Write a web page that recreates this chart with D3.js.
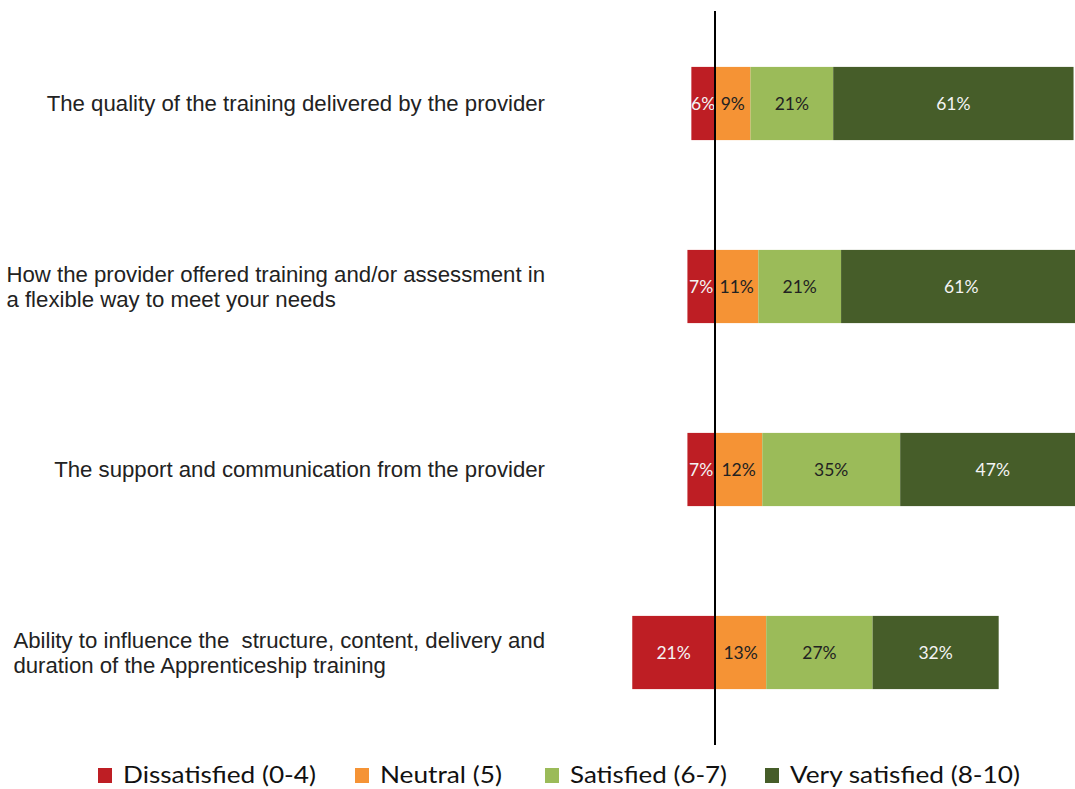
<!DOCTYPE html>
<html><head><meta charset="utf-8">
<script src="https://cdn.jsdelivr.net/npm/d3@7"></script>
<style>body{margin:0;background:#fff}svg{display:block}text{white-space:pre}</style>
</head><body>
<svg id="c" width="1075" height="789"></svg>
<script>
const categories = [
  ["The quality of the training delivered by the provider"],
  ["How the provider offered training and/or assessment in", "a flexible way to meet your needs"],
  ["The support and communication from the provider"],
  ["Ability to influence the  structure, content, delivery and", "duration of the Apprenticeship training"]
];
const seriesNames = ["Dissatisfied (0-4)", "Neutral (5)", "Satisfied (6-7)", "Very satisfied (8-10)"];
const dissatisfied = [6, 7, 7, 21];
const neutral = [9, 11, 12, 13];
const satisfied = [21, 21, 35, 27];
const verySatisfied = [61, 61, 47, 32];
const colors = ["#BE1E24", "#F59335", "#9BBB59", "#465D29"];
const labelColors = ["#f4f4f4", "#222222", "#222222", "#f4f4f4"];

const svg = d3.select("#c");
const x = d3.scaleLinear().domain([-100, 100]).range([715 - 394, 715 + 394]);
const y = d3.scaleBand().domain(d3.range(categories.length)).range([12, 744]).paddingInner(0.6).paddingOuter(0.3);

const rows = categories.map((c, i) => {
  const segs = [];
  segs.push({s: 0, x0: -dissatisfied[i], x1: 0, v: dissatisfied[i]});
  let acc = 0;
  [neutral[i], satisfied[i], verySatisfied[i]].forEach((v, k) => {
    segs.push({s: k + 1, x0: acc, x1: acc + v, v});
    acc += v;
  });
  return {i, segs};
});

const g = svg.append("g");
rows.forEach(r => {
  r.segs.forEach(sg => {
    g.append("rect")
      .attr("x", x(sg.x0)).attr("width", x(sg.x1) - x(sg.x0))
      .attr("y", y(r.i)).attr("height", y.bandwidth())
      .attr("fill", colors[sg.s]);
    g.append("text")
      .attr("x", (x(sg.x0) + x(sg.x1)) / 2)
      .attr("y", y(r.i) + y.bandwidth() / 2)
      .attr("dy", "0.35em")
      .attr("text-anchor", "middle")
      .attr("font-family", "Lato, 'Open Sans', sans-serif")
      .attr("font-size", 17.5)
      .attr("fill", labelColors[sg.s])
      .text(sg.v + "%");
  });
});

// category labels
const labelRight = 545;
categories.forEach((lines, i) => {
  const cy = y(i) + y.bandwidth() / 2;
  const t = svg.append("text")
    .attr("font-family", "'Liberation Sans', Arial, sans-serif")
    .attr("font-size", 22.2)
    .attr("fill", "#222");
  const spans = lines.map((ln, j) => t.append("tspan").text(ln));
  const widths = spans.map(s => s.node().getComputedTextLength());
  const maxW = d3.max(widths);
  const left = labelRight - maxW;
  const lh = 25;
  spans.forEach((s, j) => {
    s.attr("x", left).attr("y", cy + (j - (lines.length - 1) / 2) * lh).attr("dy", "0.35em");
  });
});

// zero line
svg.append("line")
  .attr("x1", x(0)).attr("x2", x(0))
  .attr("y1", 11).attr("y2", 745)
  .attr("stroke", "#000").attr("stroke-width", 2);

// legend
const legendX = [98, 355, 545, 765];
const legendW = [193, 122, 157, 230];
const lg = svg.append("g");
seriesNames.forEach((n, k) => {
  lg.append("rect").attr("x", legendX[k]).attr("y", 768).attr("width", 14).attr("height", 15).attr("fill", colors[k]);
  lg.append("text").attr("x", legendX[k] + 25).attr("y", 783)
    .attr("font-family", "Lato, 'Open Sans', sans-serif").attr("font-size", 23)
    .attr("textLength", legendW[k]).attr("lengthAdjust", "spacingAndGlyphs")
    .attr("fill", "#111").text(n);
});
</script>
</body></html>
